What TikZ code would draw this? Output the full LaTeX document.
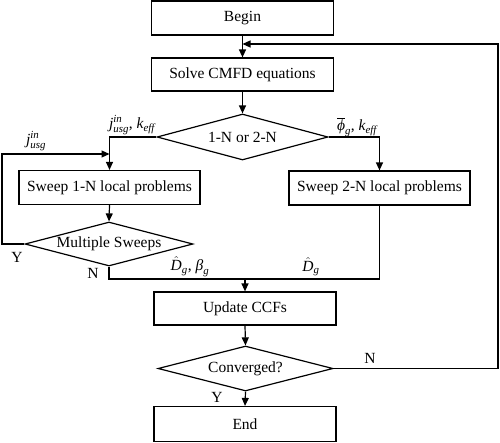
\documentclass[tikz,border=0pt]{standalone}
\usepackage{amsmath}
\usepackage{fontspec}
\setmainfont{Liberation Serif}
\usetikzlibrary{shapes.geometric,arrows.meta}
\newcommand{\itx}[1]{\text{\itshape #1}}
\begin{document}
\begin{tikzpicture}[x=1pt,y=-1pt,
  every node/.style={font=\fontsize{15.5}{18}\selectfont},
  box/.style={draw,line width=1.2pt,minimum width=182pt,minimum height=34pt,inner sep=0pt},
  dia/.style={draw,diamond,line width=1.2pt,inner sep=0pt,aspect=3.8},
  line/.style={line width=1.2pt},
  arr/.style={line width=1.2pt,-{Triangle[length=8pt,width=7pt]}},
  lbl/.style={inner sep=0pt}]
\useasboundingbox (0,0) rectangle (500,442);
\node[box] (begin) at (242.5,18) {Begin};
\node[box,minimum height=33pt] (solve) at (242.5,74.5) {Solve CMFD equations};
\node[dia,minimum width=171pt,minimum height=46pt] (d1) at (242.5,137) {1-N or 2-N};
\node[box,minimum width=181pt] (s1) at (109.5,187.5) {Sweep 1-N local problems};
\node[box,minimum width=181pt] (s2) at (379.5,188) {Sweep 2-N local problems};
\node[dia,minimum width=168pt,minimum height=44pt] (d2) at (109,244) {Multiple Sweeps};
\node[box,minimum height=33pt] (upd) at (245,308.5) {Update CCFs};
\node[dia,minimum width=175pt,minimum height=45pt] (d3) at (245.5,368.5) {Converged?};
\node[box,minimum height=35pt] (end) at (245,424) {End};
\coordinate (yl) at (2,154);
\coordinate (mrg) at (0,279);
\coordinate (lr) at (498,44);
\draw[arr] (begin.south) -- (solve.north);
\draw[arr] (solve.south) -- (d1.north);
\draw[arr] (d1.west) -| (s1.north);
\draw[arr] (d1.east) -| (s2.north);
\draw[arr] (s1.south) -- (d2.north);
\draw[arr] (d2.west) -| (yl) -- (s1.north |- yl);
\draw[line] (d2.south) |- (upd.north |- mrg);
\draw[line] (s2.south) |- (upd.north |- mrg);
\draw[arr] (upd.north |- mrg) -- (upd.north);
\draw[arr] (upd.south) -- (d3.north);
\draw[arr] (d3.south) -- (end.north);
\draw[arr] (d3.east) -| (lr) -- (begin.south |- lr);
\node[lbl] (l1) at (132,125) {$\itx{j}^{\itx{in}}_{\itx{usg}}$, $\itx{k}_{\itx{eff}}$};
\node[lbl] (l2) at (36,141) {$\itx{j}^{\itx{in}}_{\itx{usg}}$};
\node[lbl] (l3) at (357,127) {$\overline{\itx{ϕ}}_{\itx{g}}$, $\itx{k}_{\itx{eff}}$};
\node[lbl] (ly1) at (17,257) {Y};
\node[lbl] (ln1) at (93,273) {N};
\node[lbl] (l4) at (190,267) {$\hat{\itx{D}}_{\itx{g}}$, $\itx{β}_{\itx{g}}$};
\node[lbl] (l5) at (311,267) {$\hat{\itx{D}}_{\itx{g}}$};
\node[lbl] (ln2) at (370,358) {N};
\node[lbl] (ly2) at (217,397) {Y};
\end{tikzpicture}
\end{document}
